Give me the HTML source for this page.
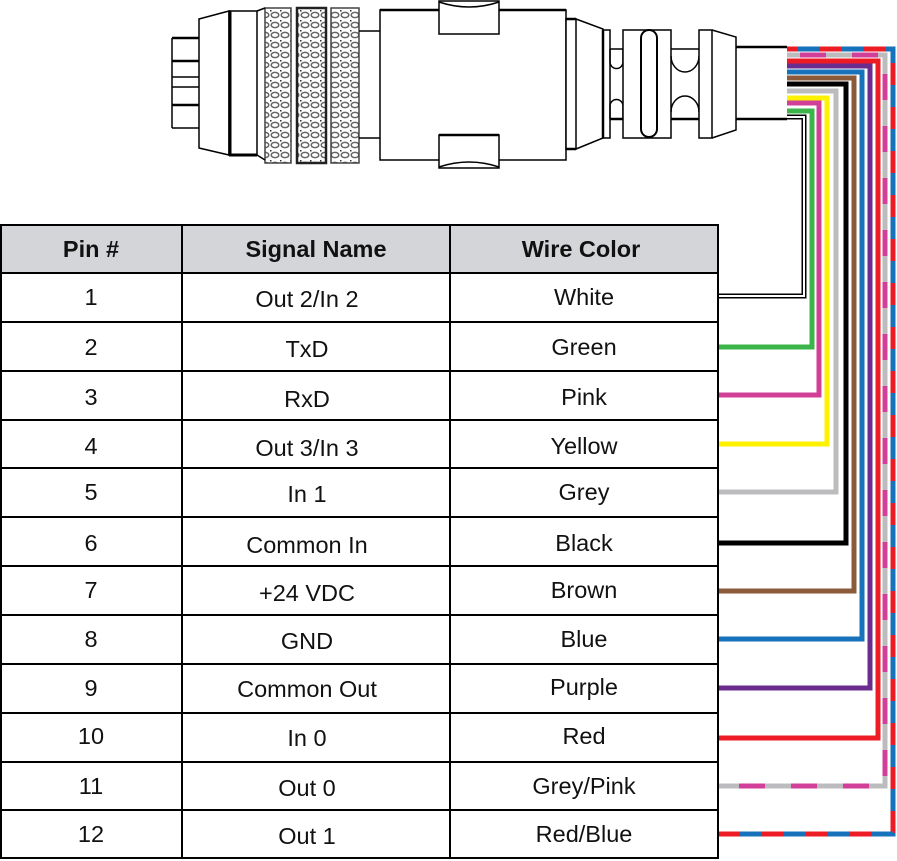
<!DOCTYPE html>
<html><head><meta charset="utf-8"><style>
html,body{margin:0;padding:0;background:#fff;}
svg{display:block;}
text{font-family:"Liberation Sans",Arial,sans-serif;font-size:23.5px;fill:#111;}
</style></head><body>
<svg width="897" height="861" viewBox="0 0 897 861" xmlns="http://www.w3.org/2000/svg">
<defs>
<pattern id="kn" width="10" height="10" patternUnits="userSpaceOnUse">
<rect width="10" height="10" fill="#fff"/>
<ellipse cx="5" cy="5" rx="3.8" ry="2.6" fill="none" stroke="#666" stroke-width="1.5"/>
<rect x="0" y="0" width="1.5" height="1.5" fill="#333"/>
</pattern>
</defs>
<g fill="none" stroke="#000" stroke-width="1.5">
<path d="M172 38 V128 M172 38 H199 M172 61 H199 M172 77 H199 M172 87 H199 M172 105 H199 M172 128 H199" />
<path d="M172 38 H199 M172 61 H199 M172 105 H199" stroke-width="2.5"/>
<path d="M199 19 L229 11 V155 L199 148 Z" fill="#fff"/>
<rect x="229" y="11" width="28" height="144" fill="#fff"/>
<path d="M230 11 V155" stroke-width="3"/>
<path d="M229 155 H257" stroke-width="3"/>
<rect x="265" y="8" width="26" height="155" fill="url(#kn)" stroke="#444"/>
<rect x="297" y="8" width="29" height="155" fill="url(#kn)" stroke="#222" stroke-width="2.5"/>
<rect x="331" y="8" width="28" height="155" fill="url(#kn)" stroke="#444"/>
<path d="M257 11 L265 8 M257 155 L265 160"/>
<path d="M359 31 H380 M359 138 H380"/>
<path d="M380 10 V160 H566 V10 Z" fill="#fff"/>
<path d="M380 10 H566" stroke-width="2.5"/>
<rect x="439" y="1" width="60" height="33" fill="#fff"/>
<path d="M439 2 Q469 12 499 2" />
<rect x="439" y="135" width="60" height="33" fill="#fff"/>
<path d="M439 135 H499" stroke-width="2.5"/>
<path d="M439 167 Q469 157 499 167"/>
<rect x="566" y="19" width="10" height="130" fill="#fff"/>
<path d="M566 19 H576 M566 149 H576" stroke-width="2.5"/>
<path d="M576 19 L603 29 V138 L576 149"/>
<rect x="603" y="30" width="7" height="108" fill="#fff"/>
<path d="M603 30 V138" stroke-width="2.5"/>
<path d="M610 49 H623 M610 119 H623" stroke-width="1.5"/>
<path d="M610 119 H623" stroke-width="2.5"/>
<path d="M610 49 V62 A6.5 6.5 0 0 0 623 62 V49"/>
<path d="M610 119 V106 A6.5 6.5 0 0 1 623 106 V119"/>
<rect x="623" y="30" width="48" height="108" fill="#fff"/>
<rect x="641" y="30" width="16" height="107" rx="8" fill="#fff" stroke-width="2"/>
<path d="M671 49 H699 M671 119 H699"/>
<path d="M671 119 H699" stroke-width="2.5"/>
<path d="M671 56 A14 16 0 0 0 699 56"/>
<path d="M671 112 A14 16 0 0 1 699 112"/>
<rect x="699" y="30" width="13" height="108" fill="#fff"/>
<path d="M712 30 L736 37 V130 L712 138"/>
<path d="M736 47 H787 M736 119 H787" stroke-width="2.5"/>
</g>

<g fill="none" stroke-width="5" stroke-linejoin="miter">
<polyline points="787,117 804,117 804,296 718,296" stroke="#000" stroke-width="5"/>
<polyline points="787,117 804,117 804,296 718,296" stroke="#fff" stroke-width="2"/>
<polyline points="787,111 812,111 812,347 718,347" stroke="#3bb44a"/>
<polyline points="787,103 819,103 819,395 718,395" stroke="#d23f98"/>
<polyline points="787,98 827,98 827,444 718,444" stroke="#fff200"/>
<polyline points="787,91 836,91 836,492 718,492" stroke="#bcbcbe"/>
<polyline points="787,84 846,84 846,543 718,543" stroke="#000"/>
<polyline points="787,78 854,78 854,591 718,591" stroke="#8b5a3a"/>
<polyline points="787,72 862,72 862,639 718,639" stroke="#1673bb"/>
<polyline points="787,66 870,66 870,688 718,688" stroke="#6a2d8f"/>
<polyline points="787,61 878,61 878,738 718,738" stroke="#ed1c24"/>
<polyline points="787,55 885,55 885,786 718,786" stroke="#bcbcbe"/>
<polyline points="787,55 885,55 885,786 718,786" stroke="#d23f98" stroke-dasharray="26 26" stroke-dashoffset="-13"/>
<polyline points="787,49 893,49 893,834 718,834" stroke="#ed1c24"/>
<polyline points="787,49 893,49 893,834 718,834" stroke="#1673bb" stroke-dasharray="22 22" stroke-dashoffset="-10"/>
</g>

<rect x="1" y="225" width="717" height="48" fill="#d4d5d8"/>
<g stroke="#000" stroke-width="2" fill="none">
<rect x="1" y="225" width="717" height="633"/>
<path d="M182 225 V858 M450 225 V858"/>
<path d="M1 273 H718 M1 322 H718 M1 371 H718 M1 420 H718 M1 468 H718 M1 517 H718 M1 566 H718 M1 615 H718 M1 664 H718 M1 713 H718 M1 762 H718 M1 810 H718"/>
</g>
<g text-anchor="middle" dominant-baseline="central">
<text x="91" y="249" font-weight="bold">Pin #</text>
<text x="316" y="249" font-weight="bold">Signal Name</text>
<text x="581" y="249" font-weight="bold">Wire Color</text>

<text x="91" y="297">1</text><text x="307" y="299">Out 2/In 2</text><text x="584" y="297">White</text>
<text x="91" y="347">2</text><text x="307" y="349">TxD</text><text x="584" y="347">Green</text>
<text x="91" y="397">3</text><text x="307" y="399">RxD</text><text x="584" y="397">Pink</text>
<text x="91" y="446">4</text><text x="307" y="448">Out 3/In 3</text><text x="584" y="446">Yellow</text>
<text x="91" y="492">5</text><text x="307" y="494">In 1</text><text x="584" y="492">Grey</text>
<text x="91" y="543">6</text><text x="307" y="545">Common In</text><text x="584" y="543">Black</text>
<text x="91" y="590">7</text><text x="307" y="593">+24 VDC</text><text x="584" y="590">Brown</text>
<text x="91" y="639">8</text><text x="307" y="641">GND</text><text x="584" y="639">Blue</text>
<text x="91" y="688">9</text><text x="307" y="689">Common Out</text><text x="584" y="687">Purple</text>
<text x="91" y="736">10</text><text x="307" y="738">In 0</text><text x="584" y="736">Red</text>
<text x="91" y="786">11</text><text x="307" y="788">Out 0</text><text x="584" y="786">Grey/Pink</text>
<text x="91" y="834">12</text><text x="307" y="836">Out 1</text><text x="584" y="834">Red/Blue</text>
</g>
</svg>
</body></html>
